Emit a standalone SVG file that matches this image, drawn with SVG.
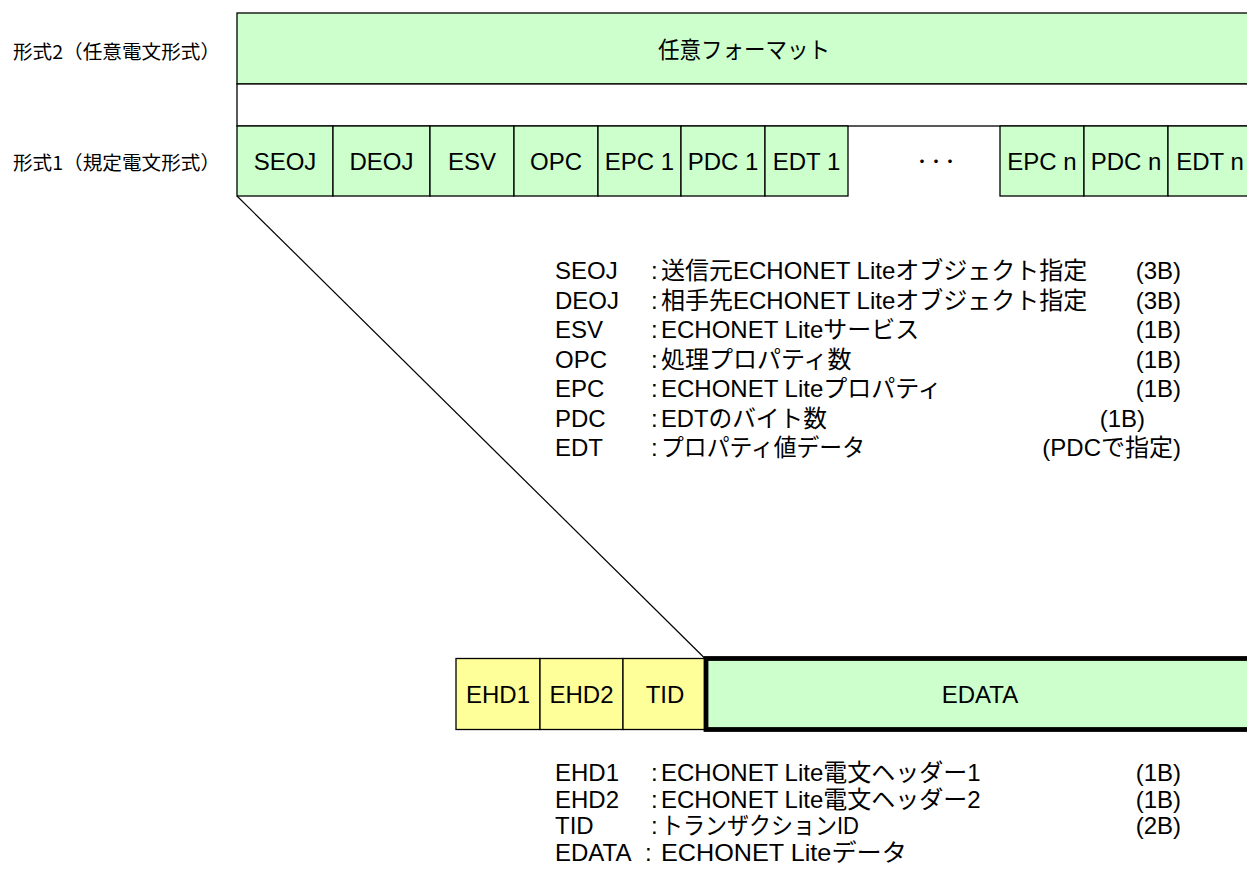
<svg xmlns="http://www.w3.org/2000/svg" width="1247" height="877" viewBox="0 0 1247 877">
<style>
.g{fill:#ccffcc;stroke:#000;stroke-width:1.3}
.y{fill:#ffff99;stroke:#000;stroke-width:1.3}
.w{fill:#fff;stroke:#000;stroke-width:1.3}
.t{font-family:"Liberation Sans","Noto Sans CJK JP",sans-serif;font-size:24px;fill:#000}
.c{text-anchor:middle}
.lb{font-family:"Noto Sans CJK JP","Liberation Sans",sans-serif;font-size:19px;fill:#000}
.r{text-anchor:end}
</style>
<rect width="1247" height="877" fill="#fff"/>
<g id="label-format2"><text class="lb" x="13" y="58.5" textLength="207" lengthAdjust="spacingAndGlyphs">形式2（任意電文形式）</text></g>
<g id="label-format1"><text class="lb" x="13" y="169.5" textLength="207" lengthAdjust="spacingAndGlyphs">形式1（規定電文形式）</text></g>
<g id="free-format"><rect class="g" x="237" y="13" width="1014" height="71"/><text class="t c" x="744" y="58" style="font-family:'Noto Sans CJK JP',sans-serif;font-size:23px" textLength="172" lengthAdjust="spacingAndGlyphs">任意フォーマット</text></g>
<g id="gap-row"><rect class="w" x="237" y="84" width="1014" height="42"/></g>
<g id="SEOJ"><rect class="g" x="237" y="126" width="96" height="70"/><text class="t c" x="285" y="170">SEOJ</text></g>
<g id="DEOJ"><rect class="g" x="333" y="126" width="97" height="70"/><text class="t c" x="381.5" y="170">DEOJ</text></g>
<g id="ESV"><rect class="g" x="430" y="126" width="84" height="70"/><text class="t c" x="472" y="170">ESV</text></g>
<g id="OPC"><rect class="g" x="514" y="126" width="84" height="70"/><text class="t c" x="556" y="170">OPC</text></g>
<g id="EPC1"><rect class="g" x="598" y="126" width="83" height="70"/><text class="t c" x="639.5" y="170">EPC 1</text></g>
<g id="PDC1"><rect class="g" x="681" y="126" width="84" height="70"/><text class="t c" x="723" y="170">PDC 1</text></g>
<g id="EDT1"><rect class="g" x="765" y="126" width="83" height="70"/><text class="t c" x="806.5" y="170">EDT 1</text></g>
<g id="ellipsis"><text x="936" y="166" text-anchor="middle" style="font-family:'Noto Sans CJK JP',sans-serif;font-size:14px;font-weight:bold">・・・</text></g>
<g id="EPCn"><rect class="g" x="1000" y="126" width="84" height="70"/><text class="t c" x="1042" y="170">EPC n</text></g>
<g id="PDCn"><rect class="g" x="1084" y="126" width="84" height="70"/><text class="t c" x="1126" y="170">PDC n</text></g>
<g id="EDTn"><rect class="g" x="1168" y="126" width="84" height="70"/><text class="t c" x="1210" y="170">EDT n</text></g>
<g id="connectors"><line x1="237" y1="196" x2="704" y2="657.5" stroke="#000" stroke-width="1.2"/></g>
<g id="EHD1"><rect class="y" x="456" y="658.5" width="84" height="71"/><text class="t c" x="498" y="703">EHD1</text></g>
<g id="EHD2"><rect class="y" x="540" y="658.5" width="83" height="71"/><text class="t c" x="581.5" y="703">EHD2</text></g>
<g id="TID"><rect class="y" x="623" y="658.5" width="83" height="71"/><text class="t c" x="665" y="703">TID</text></g>
<g id="EDATA"><rect x="706" y="658.5" width="550" height="71" fill="#ccffcc" stroke="#000" stroke-width="4.8"/><text class="t c" x="980" y="703">EDATA</text></g>
<g id="legend1">
<text class="t" x="555" y="279">SEOJ</text><text class="t" x="651" y="279">:<tspan x="661">送信元ECHONET Liteオブジェクト指定</tspan></text><text class="t r" x="1181" y="279">(3B)</text>
<text class="t" x="555" y="308.5">DEOJ</text><text class="t" x="651" y="308.5">:<tspan x="661">相手先ECHONET Liteオブジェクト指定</tspan></text><text class="t r" x="1181" y="308.5">(3B)</text>
<text class="t" x="555" y="338">ESV</text><text class="t" x="651" y="338">:<tspan x="661">ECHONET Liteサービス</tspan></text><text class="t r" x="1181" y="338">(1B)</text>
<text class="t" x="555" y="367.5">OPC</text><text class="t" x="651" y="367.5">:<tspan x="661">処理プロパティ数</tspan></text><text class="t r" x="1181" y="367.5">(1B)</text>
<text class="t" x="555" y="397">EPC</text><text class="t" x="651" y="397">:<tspan x="661">ECHONET Liteプロパティ</tspan></text><text class="t r" x="1181" y="397">(1B)</text>
<text class="t" x="555" y="426.5">PDC</text><text class="t" x="651" y="426.5">:<tspan x="661" textLength="166" lengthAdjust="spacingAndGlyphs">EDTのバイト数</tspan></text><text class="t r" x="1145" y="426.5">(1B)</text>
<text class="t" x="555" y="456">EDT</text><text class="t" x="651" y="456">:<tspan x="661" textLength="204" lengthAdjust="spacingAndGlyphs">プロパティ値データ</tspan></text><text class="t r" x="1181" y="456">(PDCで指定)</text>
</g>
<g id="legend2">
<text class="t" x="555" y="781">EHD1</text><text class="t" x="651" y="781">:<tspan x="661">ECHONET Lite電文ヘッダー1</tspan></text><text class="t r" x="1181" y="781">(1B)</text>
<text class="t" x="555" y="807.5">EHD2</text><text class="t" x="651" y="807.5">:<tspan x="661">ECHONET Lite電文ヘッダー2</tspan></text><text class="t r" x="1181" y="807.5">(1B)</text>
<text class="t" x="555" y="834">TID</text><text class="t" x="651" y="834">:<tspan x="661" textLength="198" lengthAdjust="spacingAndGlyphs">トランザクションID</tspan></text><text class="t r" x="1181" y="834">(2B)</text>
<text class="t" x="555" y="860.5">EDATA</text><text class="t" x="645" y="860.5">:<tspan x="661" textLength="246" lengthAdjust="spacingAndGlyphs">ECHONET Liteデータ</tspan></text>
</g>
</svg>
